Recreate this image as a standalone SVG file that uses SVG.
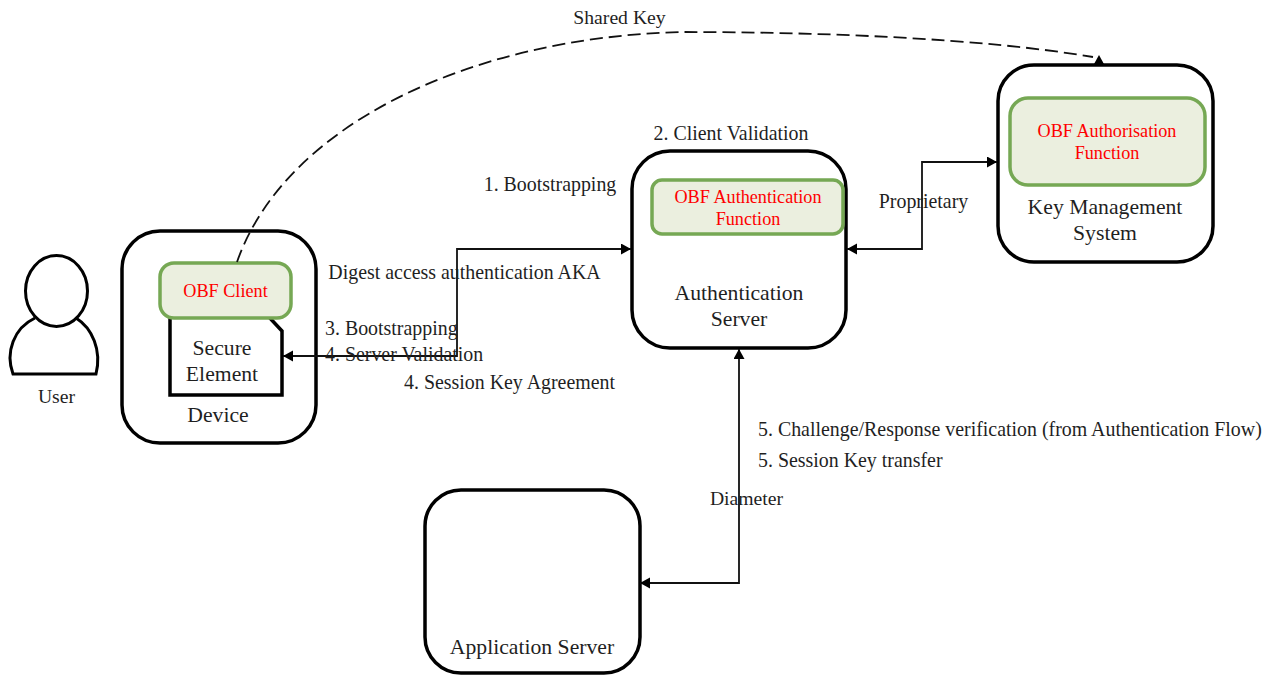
<svg xmlns="http://www.w3.org/2000/svg" width="1273" height="675" viewBox="0 0 1273 675">
<defs>
<marker id="arr" markerUnits="userSpaceOnUse" markerWidth="12" markerHeight="12" refX="10" refY="5.5" orient="auto-start-reverse"><path d="M0 0L10 5.500L0 11Z" fill="#000"/></marker>
<marker id="up" markerUnits="userSpaceOnUse" markerWidth="12" markerHeight="12" refX="0" refY="5.5" orient="-90"><path d="M0 0L10 5.500L0 11Z" fill="#000"/></marker>
</defs>
<style>
text{font-family:"Liberation Serif","Times New Roman",serif;fill:#1f1f1f;text-anchor:middle}
.s{font-size:19.9px}
.t{font-size:19.7px}
.m{font-size:21.7px}
.r{font-size:18.2px;fill:#ff0000}
.box{fill:#fff;stroke:#000;stroke-width:3.5}
.fn{fill:#ebefdf;stroke:#76a854;stroke-width:3.5}
.c{fill:none;stroke:#111;stroke-width:1.8}
.l{text-anchor:start}
</style>
<rect width="1273" height="675" fill="#fff"/>
<g id="user">
<path d="M35 318C14 328 5 352 13 374L96 374C102 350 92 328 76 318" fill="#fff" stroke="#000" stroke-width="3"/>
<ellipse cx="56.500" cy="291" rx="31" ry="35.500" fill="#fff" stroke="#000" stroke-width="3"/>
<text class="t" x="56.500" y="403">User</text>
</g>
<g id="device">
<rect class="box" x="122" y="231" width="194" height="212" rx="38"/>
<text class="m" x="218" y="422">Device</text>
</g>
<g id="secure-element">
<path d="M170 316V395H282V331L268 316Z" fill="#fff" stroke="#000" stroke-width="3.500"/>
<text class="m" x="222" y="355">Secure</text>
<text class="m" x="222" y="381">Element</text>
</g>
<g id="obf-client">
<rect class="fn" x="160" y="263" width="131" height="55" rx="14"/>
<text class="r" x="225.500" y="297">OBF Client</text>
</g>
<g id="auth-server">
<rect class="box" x="632" y="151" width="214" height="197" rx="38"/>
<text class="m" x="739" y="300">Authentication</text>
<text class="m" x="739" y="326">Server</text>
</g>
<g id="obf-auth-fn">
<rect class="fn" x="652" y="180" width="191" height="54" rx="10"/>
<text class="r" x="748" y="203">OBF Authentication</text>
<text class="r" x="748" y="225">Function</text>
</g>
<g id="kms">
<rect class="box" x="998" y="65" width="215" height="197" rx="36"/>
<text class="m" x="1105" y="214">Key Management</text>
<text class="m" x="1105" y="240">System</text>
</g>
<g id="obf-authorisation-fn">
<rect class="fn" x="1010" y="98" width="195" height="87" rx="18"/>
<text class="r" x="1107" y="137">OBF Authorisation</text>
<text class="r" x="1107" y="159">Function</text>
</g>
<g id="app-server">
<rect class="box" x="425" y="490" width="215" height="183" rx="36"/>
<text class="m" x="532" y="654">Application Server</text>
</g>
<g id="connectors">
<path class="c" d="M237 262C285 125 470 38 680 32C820 32 980 38 1093 57" stroke-dasharray="13 6"/>
<path class="c" d="M1099 64V65" stroke="none" marker-end="url(#up)"/>
<path class="c" d="M283 356H457V249H631" marker-start="url(#arr)" marker-end="url(#arr)"/>
<path class="c" d="M847 249H922V162H997" marker-start="url(#arr)" marker-end="url(#arr)"/>
<path class="c" d="M640 583H739V349" marker-start="url(#arr)" marker-end="url(#arr)"/>
</g>
<g id="labels">
<text class="t" x="619.500" y="24">Shared Key</text>
<text class="s" x="731" y="140">2. Client Validation</text>
<text class="s" x="550" y="191">1. Bootstrapping</text>
<text class="s" x="923.500" y="208">Proprietary</text>
<text class="s" x="464.500" y="279">Digest access authentication AKA</text>
<text class="s l" x="325" y="335">3. Bootstrapping</text>
<text class="s l" x="325" y="361">4. Server Validation</text>
<text class="s l" x="404" y="389">4. Session Key Agreement</text>
<text class="s l" x="758" y="436">5. Challenge/Response verification (from Authentication Flow)</text>
<text class="s l" x="758" y="467">5. Session Key transfer</text>
<text class="t" x="746.500" y="505">Diameter</text>
</g>
</svg>
